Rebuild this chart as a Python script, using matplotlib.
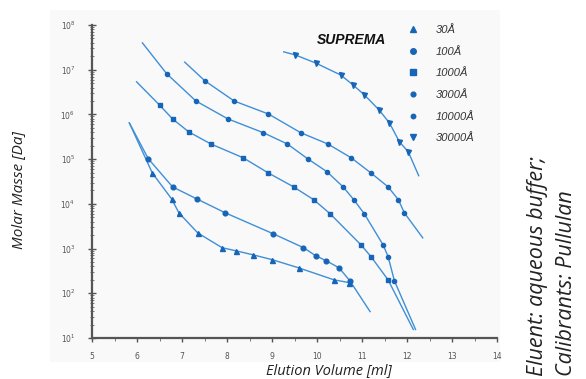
import matplotlib
matplotlib.use('Agg')
import matplotlib.pyplot as plt
from matplotlib.lines import Line2D
from matplotlib.patches import Rectangle
from matplotlib.ticker import MultipleLocator, NullFormatter
import numpy as np

# Pullulan calibration on SUPREMA columns: elution volume [ml] vs log10(M [Da])
pore_sizes = ['30Å', '100Å', '1000Å', '3000Å', '10000Å', '30000Å']

ve_30 = [6.34, 6.77, 6.93, 7.35, 7.89, 8.20, 8.58, 9.01, 9.59, 10.38, 10.71]
lg_30 = [4.69, 4.11, 3.80, 3.35, 3.02, 2.95, 2.86, 2.75, 2.57, 2.30, 2.24]

ve_100 = [6.25, 6.79, 7.33, 7.96, 9.03, 9.70, 9.97, 10.20, 10.49, 10.73]
lg_100 = [5.01, 4.38, 4.11, 3.80, 3.33, 3.02, 2.84, 2.73, 2.57, 2.28]

ve_1000 = [6.50, 6.79, 7.15, 7.64, 8.36, 8.92, 9.48, 9.93, 10.29, 10.98, 11.20, 11.58]
lg_1000 = [6.21, 5.90, 5.61, 5.34, 5.03, 4.69, 4.38, 4.09, 3.78, 3.08, 2.82, 2.30]

ve_3000 = [6.66, 7.31, 8.02, 8.81, 9.34, 9.79, 10.22, 10.58, 10.82, 11.05, 11.47, 11.58, 11.72]
lg_3000 = [6.91, 6.30, 5.90, 5.59, 5.34, 5.01, 4.72, 4.38, 4.09, 3.78, 3.08, 2.82, 2.28]

ve_10000 = [7.51, 8.16, 8.92, 9.64, 10.24, 10.76, 11.20, 11.58, 11.81, 11.94]
lg_10000 = [6.75, 6.30, 6.01, 5.59, 5.34, 5.03, 4.69, 4.38, 4.09, 3.80]

ve_30000 = [9.52, 9.97, 10.53, 10.80, 11.05, 11.38, 11.61, 11.83, 12.03]
lg_30000 = [7.33, 7.15, 6.88, 6.66, 6.44, 6.10, 5.81, 5.39, 5.16]

# where each calibration line starts / ends beyond the standards (ml, log10 M)
fit_start = [(5.83, 5.81), (5.83, 5.81), (5.99, 6.73), (6.12, 7.60), (7.06, 7.17), (9.26, 7.40)]
fit_end = [None, (11.18, 1.59), (12.14, 1.19), (12.19, 1.19), (12.35, 3.24), (12.26, 4.63)]

markers = ['^', 'o', 's', 'o', 'o', 'v']
marker_sizes = [3.6, 3.4, 3.3, 3.0, 3.0, 3.6]
legend_sizes = [4.0, 4.0, 4.2, 3.4, 3.2, 4.0]

LINE_COLOR = '#3f8fd8'
DOT_COLOR = '#1665b6'

series = [(ve_30, lg_30), (ve_100, lg_100), (ve_1000, lg_1000),
          (ve_3000, lg_3000), (ve_10000, lg_10000), (ve_30000, lg_30000)]

fig = plt.figure(figsize=(5.86, 3.79), dpi=100)
fig.patches.append(Rectangle((50 / 586, 1 - 362 / 379), 450 / 586, 352 / 379,
                             transform=fig.transFigure, facecolor='#f9f9f9',
                             edgecolor='none', zorder=-10))
ax = fig.add_axes([92 / 586, 1 - 338 / 379, 405 / 586, 313 / 379], zorder=2)
ax.set_facecolor('none')

for i, (ve, lg) in enumerate(series):
    xs = [fit_start[i][0]] + list(ve)
    ys = [fit_start[i][1]] + list(lg)
    if fit_end[i] is not None:
        xs.append(fit_end[i][0])
        ys.append(fit_end[i][1])
    ax.plot(xs, 10 ** np.array(ys), color=LINE_COLOR, lw=1.0, zorder=2)
    ax.plot(ve, 10 ** np.array(lg), linestyle='none', marker=markers[i],
            ms=marker_sizes[i], color=DOT_COLOR, mec=DOT_COLOR, zorder=3)

ax.set_yscale('log')
ax.set_xlim(5, 14)
ax.set_ylim(1e1, 1e8)
ax.xaxis.set_major_locator(MultipleLocator(1))
ax.xaxis.set_minor_locator(MultipleLocator(0.5))
ax.yaxis.set_minor_formatter(NullFormatter())

for side in ['top', 'right']:
    ax.spines[side].set_visible(False)
for side in ['left', 'bottom']:
    ax.spines[side].set_color('#555555')
    ax.spines[side].set_linewidth(1.6)

ax.tick_params(axis='both', which='major', labelsize=5.5, labelcolor='#555555',
               color='#555555', width=1.0)
ax.tick_params(axis='y', which='major', direction='inout', length=6, pad=9)
ax.tick_params(axis='y', which='minor', direction='inout', length=3, color='#666666')
ax.tick_params(axis='x', which='major', direction='out', length=3, pad=7)
ax.tick_params(axis='x', which='minor', direction='out', length=2, color='#666666')

fig.text(329 / 586, 1 - 371 / 379, 'Elution Volume [ml]', fontsize=10.5,
         style='italic', family='Open Sans', color='#222222',
         ha='center', va='center')
fig.text(19 / 586, 1 - 190 / 379, 'Molar Masse [Da]', rotation=90, fontsize=11,
         style='italic', family='Open Sans', color='#222222',
         ha='center', va='center')

# side note
fig.text(537 / 586, 1 - 376 / 379, 'Eluent: aqueous buffer;', rotation=90,
         fontsize=15.5, style='italic', family='Open Sans', color='#222222',
         ha='center', va='bottom')
fig.text(567 / 586, 1 - 376 / 379, 'Calibrants: Pullulan', rotation=90,
         fontsize=15.5, style='italic', family='Open Sans', color='#222222',
         ha='center', va='bottom')

fig.text(351 / 586, 1 - 40 / 379, 'SUPREMA', fontsize=10, fontweight='bold',
         style='italic', family='Liberation Sans', color='#111111',
         ha='center', va='center')

handles = [Line2D([], [], linestyle='none', marker=m, ms=s, color=DOT_COLOR)
           for m, s in zip(markers, legend_sizes)]
leg = ax.legend(handles, pore_sizes, loc='upper left',
                bbox_to_anchor=(407 / 586, 1 - 25 / 379),
                bbox_transform=fig.transFigure, frameon=False,
                borderpad=0, borderaxespad=0, handlelength=1.0,
                handletextpad=1.6, labelspacing=1.05,
                prop={'family': 'Liberation Sans', 'style': 'italic', 'size': 8})
for t in leg.get_texts():
    t.set_color('#333333')

fig.savefig('out.png', dpi=100)
